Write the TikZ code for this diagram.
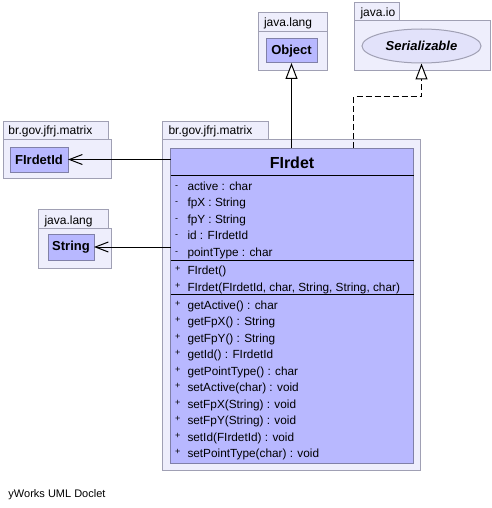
\documentclass[tikz,border=0pt]{standalone}
\usepackage{fontspec}
\setmainfont{Liberation Sans}
\usetikzlibrary{arrows.meta,shapes.geometric}
\definecolor{pkgfill}{RGB}{238,238,252}
\definecolor{pkgline}{RGB}{160,160,180}
\definecolor{clsfill}{RGB}{184,184,255}
\definecolor{clsline}{RGB}{128,128,168}
\definecolor{ifcfill}{RGB}{226,226,250}
\newcommand\myfs[1]{\fontsize{#1}{#1}\selectfont}
\begin{document}
\begin{tikzpicture}[x=1pt,y=-1pt,line width=1pt,
  pkg/.style={draw=pkgline,fill=pkgfill},
  pkglabel/.style={anchor=base west,inner sep=0,font=\myfs{12}},
  cls/.style={draw=clsline,fill=clsfill,inner sep=0,outer sep=0},
  smallcls/.style={cls,font=\myfs{13}\bfseries},
  mem/.style={anchor=base west,inner sep=0,font=\myfs{11.8}},
  vis/.style={anchor=base west,inner sep=0,font=\myfs{9}},
  sep/.style={draw=black,line width=1pt},
  gen/.style={draw=black,-{Triangle[length=16,width=12,fill=white]}},
  real/.style={gen,dash pattern=on 6pt off 3pt},
  assoc/.style={draw=black,-{Straight Barb[length=13,width=10]}}
]
\useasboundingbox[fill=white] (0,0) rectangle (491,508);

% ---- packages ----
% main
\draw[pkg] (162.5,121.5) rectangle (268,139);
\draw[pkg] (162.5,139) rectangle (420,470);
\node[pkglabel] (p1) at (168,135) {br.gov.jfrj.matrix};
% FIrdetId package
\draw[pkg] (3,121.5) rectangle (108,139);
\draw[pkg] (3,139) rectangle (111,178);
\node[pkglabel] (p2) at (8,135) {br.gov.jfrj.matrix};
% Object package
\draw[pkg] (258.5,12.5) rectangle (327,32);
\draw[pkg] (258.5,32) rectangle (327.5,71);
\node[pkglabel] (p3) at (263.5,27) {java.lang};
% Serializable package
\draw[pkg] (354.5,3) rectangle (399,20.5);
\draw[pkg] (354.5,20.5) rectangle (490,71);
\node[pkglabel] (p4) at (360,16.5) {java.io};
% String package
\draw[pkg] (38.5,209) rectangle (108,228);
\draw[pkg] (38.5,228) rectangle (111,268);
\node[pkglabel] (p5) at (44,224) {java.lang};

% ---- small classes ----
\node[smallcls,minimum width=51,minimum height=24] (obj) at (291.5,51) {Object};
\node[draw=pkgline,fill=ifcfill,ellipse,minimum width=119,minimum height=34,inner sep=0,
      font=\myfs{13}\bfseries\itshape] (ser) at (421.5,46) {Serializable};
\node[smallcls,minimum width=58,minimum height=25] (fid) at (39,159.5) {FIrdetId};
\node[smallcls,minimum width=46,minimum height=26] (str) at (71,247) {String};

% ---- main class ----
\node[cls,anchor=north west,minimum width=243,minimum height=315] (fl) at (170.5,148) {};
\node[anchor=base,inner sep=0,font=\myfs{16}\bfseries] (title) at (292,168.5) {FIrdet};
\draw[sep] (fl.west |- 0,175.5) -- (fl.east |- 0,175.5);
\draw[sep] (fl.west |- 0,260.5) -- (fl.east |- 0,260.5);
\draw[sep] (fl.west |- 0,294.5) -- (fl.east |- 0,294.5);

\foreach \t [count=\i] in {active : char,fpX : String,fpY : String,id : FIrdetId,pointType : char}{
  \node[vis] (av\i) at (174.5,{190+16.5*(\i-1)-2}) {-};
  \node[mem] (a\i) at (187,{190+16.5*(\i-1)}) {\t};
}
\foreach \t [count=\i] in {FIrdet(),{FIrdet(FIrdetId, char, String, String, char)}}{
  \node[vis] (cv\i) at (174.5,{274+17*(\i-1)-3}) {+};
  \node[mem] (c\i) at (187,{274+17*(\i-1)}) {\t};
}
\foreach \t [count=\i] in {getActive() : char,getFpX() : String,getFpY() : String,getId() : FIrdetId,
  getPointType() : char,setActive(char) : void,setFpX(String) : void,setFpY(String) : void,
  setId(FIrdetId) : void,setPointType(char) : void}{
  \node[vis] (mv\i) at (174.5,{309+16.5*(\i-1)-3}) {+};
  \node[mem] (m\i) at (187,{309+16.5*(\i-1)}) {\t};
}

% ---- connectors ----
\draw[gen] (fl.north -| obj.south) -- (obj.south);
\coordinate (bend) at (353.5,97);
\draw[real] (fl.north -| bend) -- (bend) -- (bend -| ser.south) -- (ser.south);
\draw[assoc] (fl.west |- fid.east) -- (fid.east);
\draw[assoc] (fl.west |- str.east) -- (str.east);

\node[anchor=base west,inner sep=0,font=\myfs{11}] (credit) at (8,497) {yWorks UML Doclet};
\end{tikzpicture}
\end{document}
